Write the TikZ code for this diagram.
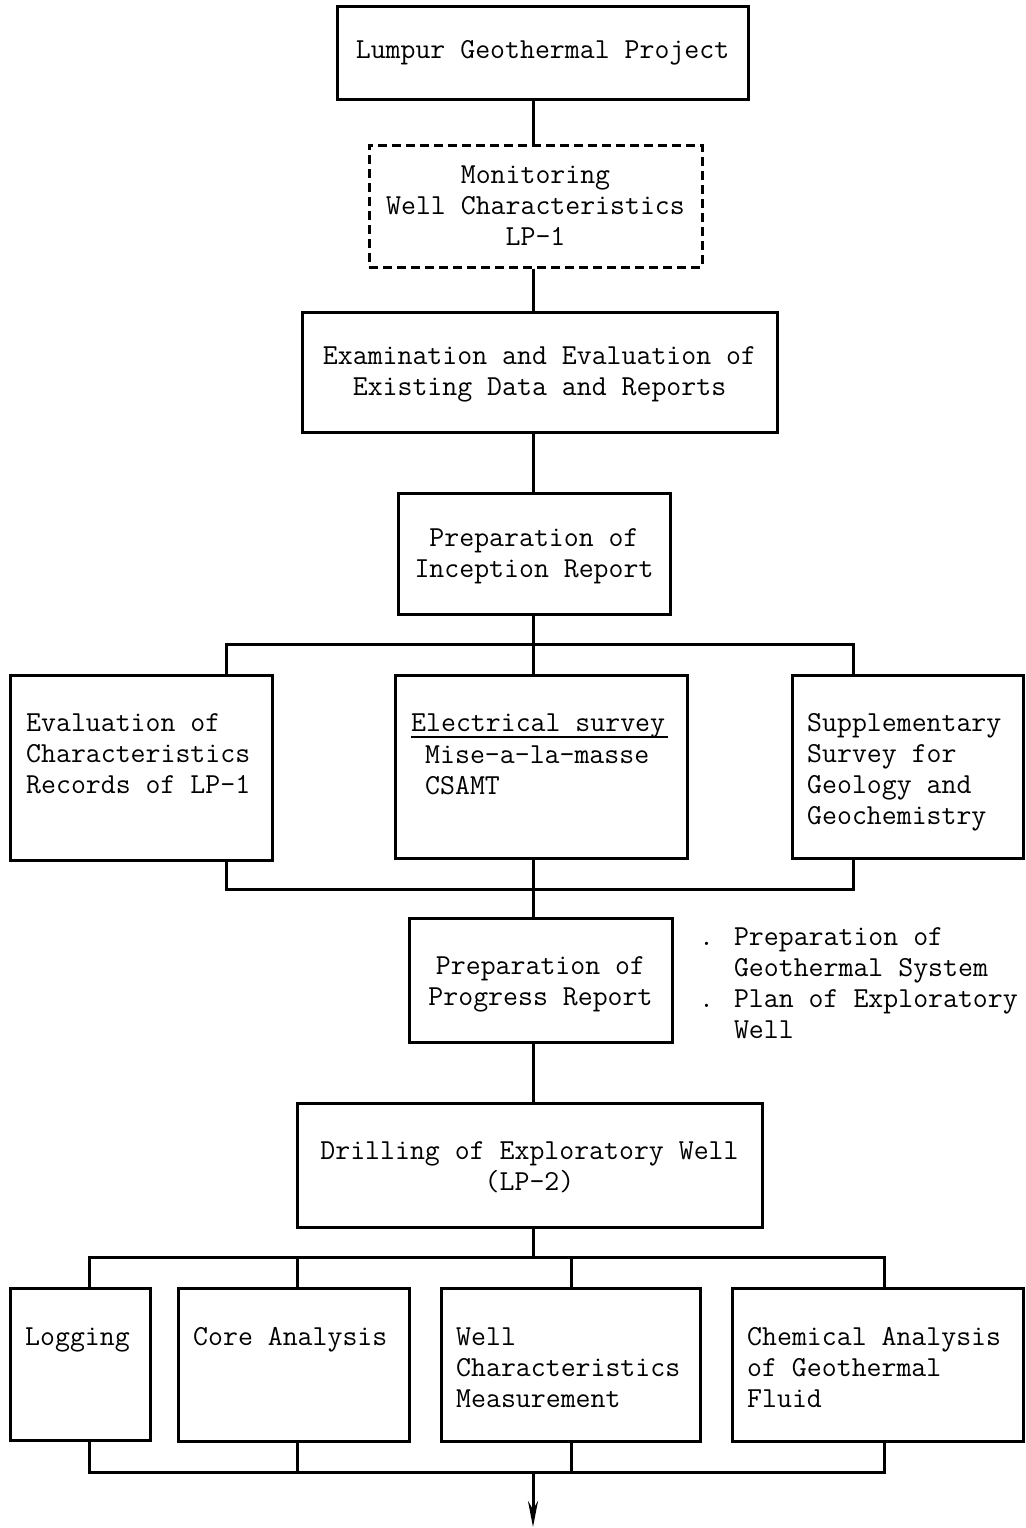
\documentclass[tikz,border=0pt]{standalone}
\usetikzlibrary{arrows.meta}
\begin{document}
\begin{tikzpicture}[x=1pt,y=-1pt,
  box/.style={draw,line width=3pt,inner sep=0pt},
  dbox/.style={box,dash pattern=on 9pt off 5pt},
  txt/.style={inner sep=0pt,align=left,font=\ttfamily\fontsize{29}{31}\selectfont},
  ctxt/.style={inner sep=0pt,align=center,font=\ttfamily\fontsize{29}{31}\selectfont},
  ln/.style={line width=3pt}]
\useasboundingbox (0,0) rectangle (1025,1528);
% top boxes
\node[box,minimum width=411pt,minimum height=92pt] (b1) at (542.5,53) {};
\node[ctxt] at (b1.center) {Lumpur Geothermal Project};
\node[dbox,minimum width=333pt,minimum height=122pt] (b2) at (535.5,206) {};
\node[ctxt] at (b2.center) {Monitoring\\Well Characteristics\\LP-1};
\node[box,minimum width=475pt,minimum height=120pt] (b3) at (539.5,372) {};
\node[ctxt] at (539.5,374) {Examination and Evaluation of\\Existing Data and Reports};
\node[box,minimum width=272pt,minimum height=121pt] (b4) at (534,553.5) {};
\node[ctxt] at (534,556) {Preparation of\\Inception Report};
% three boxes
\node[box,minimum width=262pt,minimum height=185pt] (c1) at (141,767.5) {};
\node[box,minimum width=292pt,minimum height=183pt] (c2) at (541,766.5) {};
\node[box,minimum width=231pt,minimum height=183pt] (c3) at (907.5,766.5) {};
\node[txt,anchor=base west] (t1) at (26,793) {Evaluation of\\Characteristics\\Records of LP-1};
\node[txt,anchor=base west] (el) at (411,731) {Electrical survey};
\draw[line width=2pt] ([yshift=-6pt]el.base west) -- ([xshift=3pt,yshift=-6pt]el.base east);
\node[txt,anchor=base west] (t2) at (425,794) {Mise-a-la-masse\\CSAMT};
\node[txt,anchor=base west] (t3) at (807,824) {Supplementary\\Survey for\\Geology and\\Geochemistry};
% progress
\node[box,minimum width=263pt,minimum height=124pt] (b6) at (540.5,980) {};
\node[ctxt] at (540.5,984) {Preparation of\\Progress Report};
\node[txt,anchor=base west] (note) at (699,1038) {. Preparation of\\\phantom{. }Geothermal System\\. Plan of Exploratory\\\phantom{. }Well};
\node[box,minimum width=465pt,minimum height=124pt] (b7) at (529.5,1165) {};
\node[ctxt] at (529.5,1167) {Drilling of Exploratory Well\\(LP-2)};
% four boxes
\node[box,minimum width=140pt,minimum height=152pt] (d1) at (80,1364.5) {};
\node[box,minimum width=231pt,minimum height=153pt] (d2) at (293.5,1364.5) {};
\node[box,minimum width=259pt,minimum height=153pt] (d3) at (570.5,1364.5) {};
\node[box,minimum width=291pt,minimum height=153pt] (d4) at (877.5,1364.5) {};
\node[txt,anchor=base west] at (25,1345) {Logging};
\node[txt,anchor=base west] at (193,1345) {Core Analysis};
\node[txt,anchor=base west] at (456,1407) {Well\\Characteristics\\Measurement};
\node[txt,anchor=base west] at (747,1407) {Chemical Analysis\\of Geothermal\\Fluid};
% connectors
\coordinate (bus1) at (533,644);
\coordinate (bus2) at (533,889);
\coordinate (bus3) at (533,1257);
\coordinate (bus4) at (533,1472);
\coordinate (end) at (533,1527);
\draw[ln] (b1.south -| 533,0) -- (b2.north -| 533,0);
\draw[ln] (b2.south -| 533,0) -- (b3.north -| 533,0);
\draw[ln] (b3.south -| 533,0) -- (b4.north -| 533,0);
\draw[ln] (b4.south -| 533,0) -- (bus1);
\draw[ln] (c1.north -| 226,0) |- (bus1) -| (c3.north -| 853,0);
\draw[ln] (bus1) -- (c2.north -| 533,0);
\draw[ln] (c1.south -| 226,0) |- (bus2) -| (c3.south -| 853,0);
\draw[ln] (c2.south -| 533,0) -- (bus2);
\draw[ln] (bus2) -- (b6.north -| 533,0);
\draw[ln] (b6.south -| 533,0) -- (b7.north -| 533,0);
\draw[ln] (b7.south -| 533,0) -- (bus3);
\draw[ln] (d1.north -| 89,0) |- (bus3) -| (d4.north -| 884,0);
\draw[ln] (d2.north -| 297,0) |- (bus3);
\draw[ln] (d3.north -| 571,0) |- (bus3);
\draw[ln] (d1.south -| 89,0) |- (bus4) -| (d4.south -| 884,0);
\draw[ln] (d2.south -| 297,0) |- (bus4);
\draw[ln] (d3.south -| 571,0) |- (bus4);
\draw[ln,-{Stealth[length=26pt,width=10pt]}] (bus4) -- (end);
\end{tikzpicture}
\end{document}
